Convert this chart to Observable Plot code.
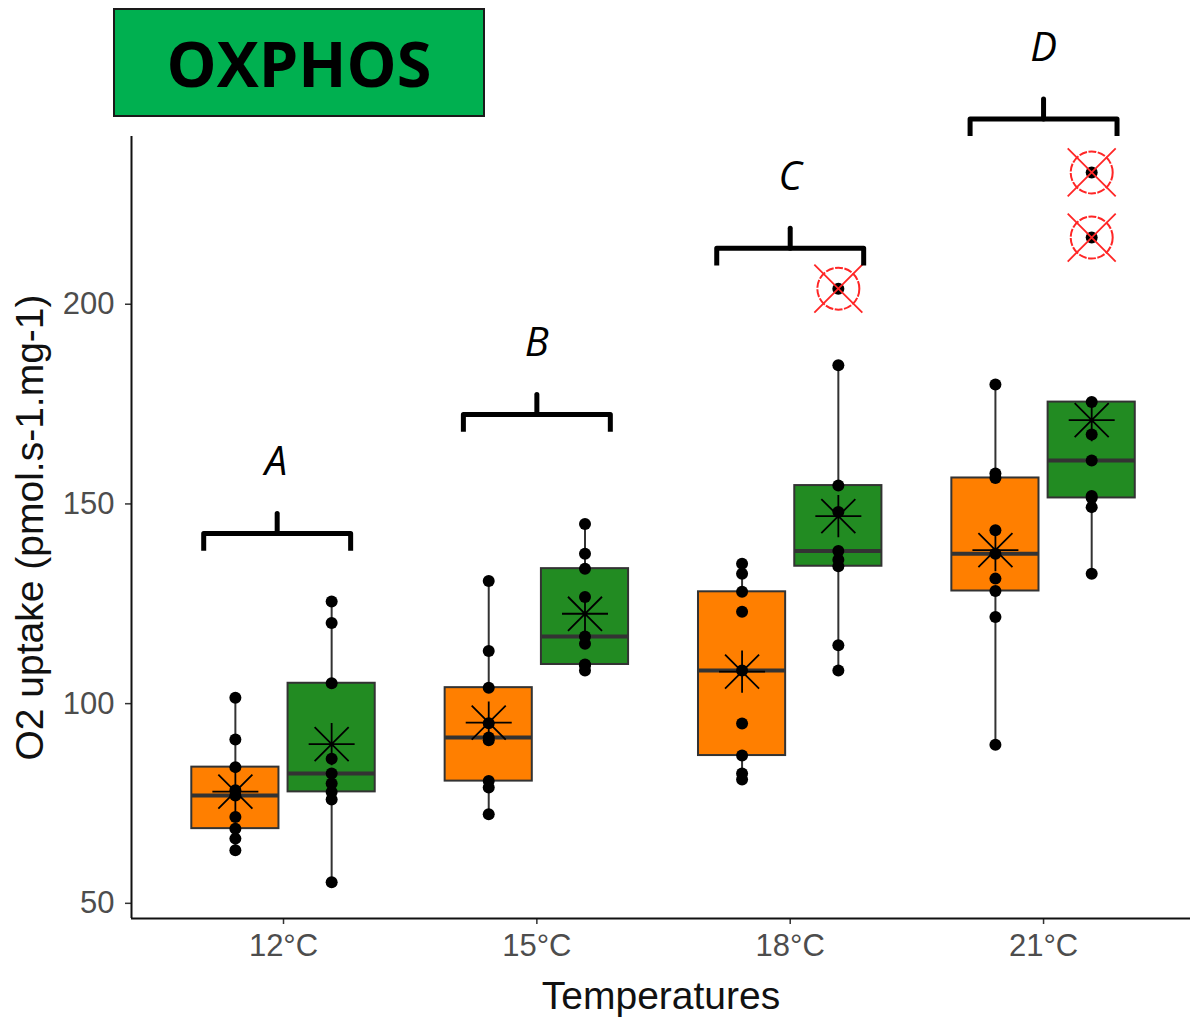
<!DOCTYPE html>
<html>
<head>
<meta charset="utf-8">
<script src="https://cdn.jsdelivr.net/npm/d3@7"></script>
<script src="https://cdn.jsdelivr.net/npm/@observablehq/plot@0.6"></script>
<style>
  html, body { margin: 0; padding: 0; background: white; }
  #wrap { position: relative; width: 1191px; height: 1017px; }
  #title {
    position: absolute; left: 113px; top: 8px; width: 372px; height: 109px;
    box-sizing: border-box; border: 2px solid #1a1a1a; background: #00B050;
    display: flex; align-items: center; justify-content: center;
    font-family: "Open Sans", "Noto Sans", sans-serif; font-weight: 700; font-size: 63px; color: #000;
  }
</style>
</head>
<body>
<div id="wrap">
  <div id="chart"></div>
  <div id="title">OXPHOS</div>
</div>
<script>
// ---- data ----
const temperatures = ["12°C", "15°C", "18°C", "21°C"];
const groupColors = ["#FF7F00", "#228B22"];   // orange series, green series
const orange12 = [63.3, 66.2, 68.7, 71.6, 77.0, 78.3, 84.1, 91.0, 101.5];
const green12  = [55.3, 76.0, 77.9, 80.0, 82.5, 86.2, 105.1, 120.2, 125.6];
const orange15 = [72.3, 79.0, 80.6, 90.8, 91.5, 95.1, 104.0, 113.2, 130.7];
const green15  = [108.3, 109.6, 109.8, 115.0, 116.8, 126.7, 133.8, 137.5, 145.0];
const orange18 = [81.0, 82.5, 87.0, 95.0, 108.3, 123.0, 128.0, 132.5, 135.0];
const green18  = [108.3, 114.6, 134.4, 136.0, 138.2, 148.0, 154.6, 184.7, 203.9];
const orange21 = [89.7, 121.7, 128.2, 131.3, 137.5, 143.4, 156.5, 157.6, 179.9];
const green21  = [132.5, 149.2, 151.5, 152.0, 160.9, 167.4, 175.5, 216.7, 233.0];
const yTicks = [50, 100, 150, 200];
const bracketLetters = ["A", "B", "C", "D"];
const bracketLevels = [142.6, 172.4, 214.0, 246.4];
const xLabel = "Temperatures";
const yLabel = "O2 uptake (pmol.s-1.mg-1)";

// ---- layout constants ----
const dodge = 0.19, boxHalf = 0.172, bracketHalf = 0.29, bracketDrop = 4.3, bracketRise = 5;

const series = [
  [orange12, green12], [orange15, green15], [orange18, green18], [orange21, green21]
];

const points = [], stats = [], outliers = [];
series.forEach((pair, ti) => {
  pair.forEach((vals, gi) => {
    const x = ti + (gi === 0 ? -dodge : dodge);
    const s = vals.slice().sort(d3.ascending);
    const q1 = d3.quantile(s, 0.25), med = d3.quantile(s, 0.5), q3 = d3.quantile(s, 0.75);
    const iqr = q3 - q1;
    const inside = s.filter(v => v >= q1 - 1.5 * iqr && v <= q3 + 1.5 * iqr);
    stats.push({x, q1, med, q3, lo: d3.min(inside), hi: d3.max(inside), mean: d3.mean(s), color: groupColors[gi]});
    s.forEach(v => {
      points.push({x, y: v});
      if (v < q1 - 1.5 * iqr || v > q3 + 1.5 * iqr) outliers.push({x, y: v});
    });
  });
});

const bracketLines = [], bracketTicks = [];
bracketLevels.forEach((L, i) => {
  const c = i === 0 ? -0.025 : 0;
  bracketLines.push({id: i, x: i + c - bracketHalf, y: L - bracketDrop}, {id: i, x: i + c - bracketHalf, y: L},
                    {id: i, x: i + c + bracketHalf, y: L}, {id: i, x: i + c + bracketHalf, y: L - bracketDrop});
  bracketTicks.push({id: i, x: i + c, y: L}, {id: i, x: i + c, y: L + bracketRise});
});
const letters = bracketLetters.map((t, i) => ({x: i + (i === 0 ? -0.03 : 0), y: bracketLevels[i], t}));

const starSymbol = {draw(ctx, size) {
  const r = Math.sqrt(size / Math.PI), d = r * 0.74, v = r * 0.92;
  ctx.moveTo(-r, 0); ctx.lineTo(r, 0);
  ctx.moveTo(0, -v); ctx.lineTo(0, v);
  ctx.moveTo(-d, -d); ctx.lineTo(d, d);
  ctx.moveTo(-d, d); ctx.lineTo(d, -d);
}};
const crossSymbol = {draw(ctx, size) {
  const r = Math.sqrt(size / Math.PI);
  ctx.moveTo(-r, -r); ctx.lineTo(r, r);
  ctx.moveTo(-r, r); ctx.lineTo(r, -r);
}};

const xMin = -0.6, yMin = 46.2;
const chart = Plot.plot({
  width: 1191, height: 1017,
  marginLeft: 131, marginRight: 1, marginTop: 136, marginBottom: 99,
  x: {domain: [xMin, 3.58], axis: null},
  y: {domain: [yMin, 242], axis: null},
  color: {type: "identity"},
  style: {fontFamily: "'Liberation Sans', Arial, sans-serif", background: "white", overflow: "visible"},
  marks: [
    Plot.axisY({ticks: yTicks, tickSize: 6, tickPadding: 11, fontSize: 31, fill: "#4D4D4D", stroke: "#333", strokeWidth: 1.5, label: null}),
    Plot.axisX({ticks: [0, 1, 2, 3], tickFormat: i => temperatures[i], tickSize: 6, tickPadding: 9, fontSize: 31, fill: "#4D4D4D", stroke: "#333", strokeWidth: 1.5, label: null}),
    Plot.ruleX([xMin], {stroke: "#111", strokeWidth: 2}),
    Plot.ruleY([yMin], {stroke: "#111", strokeWidth: 2}),
    Plot.text([xLabel], {frameAnchor: "bottom", dy: 78, lineAnchor: "middle", textAnchor: "middle", fontSize: 39, fill: "#111", text: d => d}),
    Plot.text([yLabel], {frameAnchor: "left", rotate: -90, dx: -101, lineAnchor: "middle", textAnchor: "middle", fontSize: 39, fill: "#111", text: d => d}),
    // whiskers
    Plot.ruleX(stats, {x: "x", y1: "q3", y2: "hi", stroke: "#333", strokeWidth: 2}),
    Plot.ruleX(stats, {x: "x", y1: "lo", y2: "q1", stroke: "#333", strokeWidth: 2}),
    // boxes
    Plot.rect(stats, {x1: d => d.x - boxHalf, x2: d => d.x + boxHalf, y1: "q1", y2: "q3", fill: "color", stroke: "#333", strokeWidth: 2}),
    Plot.ruleY(stats, {y: "med", x1: d => d.x - boxHalf, x2: d => d.x + boxHalf, stroke: "#333", strokeWidth: 4}),
    // points
    Plot.dot(points, {x: "x", y: "y", r: 6, fill: "#000"}),
    // means
    Plot.dot(stats, {x: "x", y: "mean", r: 23, symbol: starSymbol, fill: "none", stroke: "#000", strokeWidth: 1.8}),
    // outliers
    Plot.dot(outliers, {x: "x", y: "y", r: 21, fill: "none", stroke: "#FF2626", strokeWidth: 2, strokeDasharray: "8,1.5"}),
    Plot.dot(outliers, {x: "x", y: "y", r: 24, symbol: crossSymbol, fill: "none", stroke: "#FF2626", strokeWidth: 1.8}),
    // brackets & letters
    Plot.line(bracketLines, {x: "x", y: "y", z: "id", stroke: "#000", strokeWidth: 5, strokeLinejoin: "round", strokeLinecap: "butt"}),
    Plot.line(bracketTicks, {x: "x", y: "y", z: "id", stroke: "#000", strokeWidth: 5}),
    Plot.text(letters, {x: "x", y: "y", text: "t", dy: -71, fontSize: 40, fontStyle: "italic", fontFamily: "'Open Sans', sans-serif", fill: "#000", lineAnchor: "middle"})
  ]
});
document.getElementById("chart").appendChild(chart);
</script>
</body>
</html>
